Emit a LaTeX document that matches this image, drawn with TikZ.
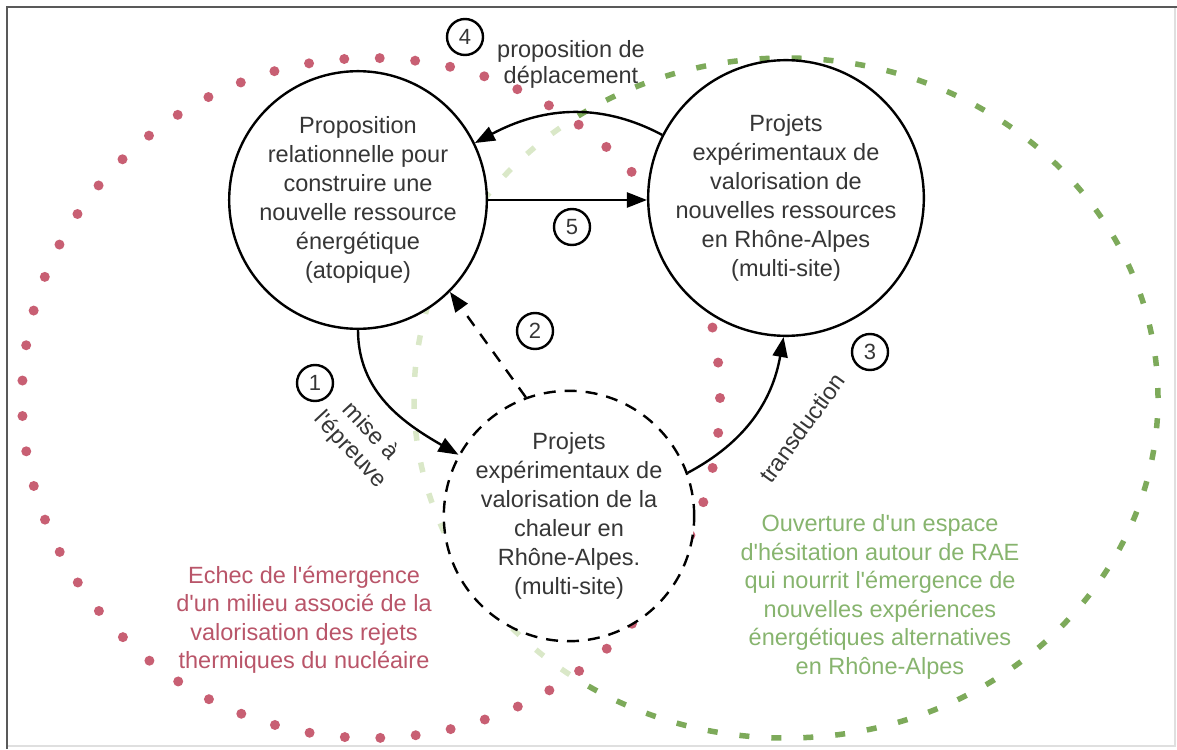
\documentclass[tikz,border=0pt]{standalone}
\usepackage{fontspec}
\setmainfont{Liberation Sans}[Ligatures=TeXOff]
\usetikzlibrary{arrows.meta}
\definecolor{txt}{HTML}{363636}
\definecolor{reddot}{RGB}{200,95,115}
\definecolor{redtxt}{RGB}{185,85,105}
\definecolor{grn}{RGB}{125,170,90}
\definecolor{grnlight}{RGB}{218,232,200}
\definecolor{grntxt}{RGB}{135,180,110}
\begin{document}
\begin{tikzpicture}[x=1pt,y=1pt,
  bignode/.style={circle,draw=black,line width=2.4pt,fill=white,minimum size=246pt,inner sep=0pt,align=center,text=txt,font=\fontsize{23.5}{29}\selectfont},
  num/.style={circle,draw=black,line width=2.4pt,minimum size=36pt,inner sep=0pt,text=txt,font=\fontsize{22}{22}\selectfont},
  lbl/.style={text=txt,align=center,font=\fontsize{23.5}{27}\selectfont},
  arr/.style={line width=2.4pt,-{Triangle[length=20pt,width=15pt]}},
  reddots/.style={reddot,line width=10pt,line cap=round,dash pattern=on 0pt off 35.5pt},
  grndash/.style={line width=5.5pt,dash pattern=on 10pt off 22pt},
  redzone/.style={redtxt,align=center,font=\fontsize{23.5}{28.5}\selectfont},
  grnzone/.style={grntxt,align=center,font=\fontsize{23.5}{28.5}\selectfont}]
\useasboundingbox (0,0) rectangle (1177,-749);
% frame
\draw[gray!25,line width=2pt] (7,-746) -- (1175,-746) -- (1175,-7);
\draw[black!65,line width=2pt] (7,-749) -- (7,-7) -- (1177,-7);
% zones
\begin{scope}[even odd rule]
  \clip (0,0) rectangle (1177,-749) (371,-398) ellipse [x radius=349,y radius=340];
  \draw[grn,grndash] (786,-398) ellipse [x radius=372,y radius=340];
\end{scope}
\begin{scope}
  \clip (371,-398) ellipse [x radius=349,y radius=340];
  \draw[grnlight,grndash] (786,-398) ellipse [x radius=372,y radius=340];
\end{scope}
\draw[reddots] (371,-398) ellipse [x radius=349,y radius=340];
% main nodes
\node[bignode,minimum size=248pt] (A) at (358,-200) {Proposition\\relationnelle pour\\construire une\\nouvelle ressource\\énergétique\\(atopique)};
\node[bignode] (B) at (786,-198) {Projets\\expérimentaux de\\valorisation de\\nouvelles ressources\\en Rhône-Alpes\\(multi-site)};
\node[bignode,dash pattern=on 12pt off 9pt] (C) at (569,-516) {Projets\\expérimentaux de\\valorisation de la\\chaleur en\\Rhône-Alpes.\\(multi-site)};
% connectors
\draw[arr] (B.153) to[out=152,in=28] (A.26);
\draw[arr] (A.east) -- (A.east -| B.west);
\draw[arr] (A.south) to[out=-90,in=150] (C.151);
\draw[arr,dash pattern=on 12pt off 10pt] (C.110) -- (A.-45);
\draw[arr] (C.20) to[out=28,in=-100] (B.-91);
% labels
\node[num] (n4) at (465,-37) {4};
\node[num] (n5) at (572,-227) {5};
\node[num] (n2) at (535,-331) {2};
\node[num] (n1) at (315,-383) {1};
\node[num] (n3) at (870,-352) {3};
\node[lbl,font=\fontsize{23.5}{26}\selectfont] (l4) at (571,-64) {proposition de\\déplacement};
\node[lbl,rotate=-47,font=\fontsize{23.5}{27}\selectfont] (l1) at (360,-441) {mise à\\l'épreuve};
\node[lbl,rotate=54] (l3) at (802,-428) {transduction};
\node[redzone] (rz) at (304,-620) {Echec de l'émergence\\d'un milieu associé de la\\valorisation des rejets\\thermiques du nucléaire};
\node[grnzone] (gz) at (880,-597) {Ouverture d'un espace\\d'hésitation autour de RAE\\qui nourrit l'émergence de\\nouvelles expériences\\énergétiques alternatives\\en Rhône-Alpes};
\end{tikzpicture}
\end{document}
